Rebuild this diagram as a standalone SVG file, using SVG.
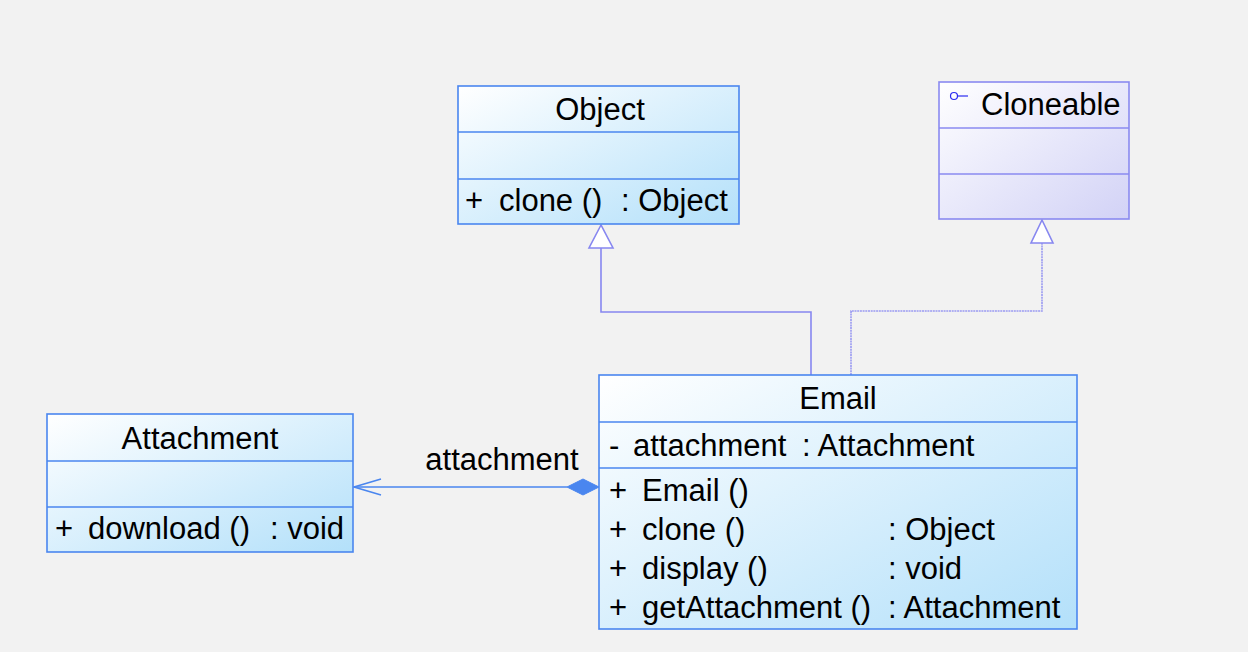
<svg xmlns="http://www.w3.org/2000/svg" width="1248" height="652" viewBox="0 0 1248 652">
<defs>
<linearGradient id="gBlue" x1="0" y1="0" x2="1" y2="1">
<stop offset="0" stop-color="#ffffff"/>
<stop offset="1" stop-color="#b3e0fa"/>
</linearGradient>
<linearGradient id="gPurple" x1="0" y1="0" x2="1" y2="1">
<stop offset="0" stop-color="#ffffff"/>
<stop offset="1" stop-color="#d2d2f6"/>
</linearGradient>
</defs>
<style>
.bg{fill:#f2f2f2}
.cls{fill:url(#gBlue);stroke:#4a86ef;stroke-width:1.6}
.ifc{fill:url(#gPurple);stroke:#8a8af0;stroke-width:1.6}
.divB{stroke:#4a86ef;stroke-width:1.6}
.divP{stroke:#8a8af0;stroke-width:1.6}
text{font-family:"Liberation Sans",Arial,Helvetica,sans-serif;font-size:31px;fill:#000}
.c{text-anchor:middle}
.gen{fill:none;stroke:#8787f0;stroke-width:1.6}
.real{fill:none;stroke:#9a9af2;stroke-width:1.6;stroke-dasharray:2 0.7}
.tri{fill:#ffffff;stroke:#8787f0;stroke-width:1.6}
.comp{fill:none;stroke:#4a86ef;stroke-width:1.6}
</style>
<rect class="bg" x="0" y="0" width="1248" height="652"/>

<g id="connectors">
<polyline class="gen" points="811,375 811,312 601,312 601,248"/>
<path class="tri" d="M601,225 L589,248 L613,248 Z"/>
<polyline class="real" points="851,375 851,311 1042,311 1042,243"/>
<path class="tri" d="M1042,220 L1031,243 L1053,243 Z"/>
<line class="comp" x1="354" y1="487" x2="567" y2="487"/>
<polyline class="comp" points="381,479 354,487 381,495"/>
<path d="M599,487 L583,479 L567,487 L583,495 Z" fill="#4a86ef" stroke="#4a86ef" stroke-width="1"/>
<text x="502" y="470" class="c">attachment</text>
</g>

<g id="Object">
<rect class="cls" x="458" y="86" width="281" height="138"/>
<line class="divB" x1="458" y1="132" x2="739" y2="132"/>
<line class="divB" x1="458" y1="179" x2="739" y2="179"/>
<text x="600" y="120" class="c">Object</text>
<text x="465" y="211">+</text>
<text x="499" y="211">clone ()</text>
<text x="621" y="211">: Object</text>
</g>

<g id="Cloneable">
<rect class="ifc" x="939" y="82" width="190" height="137"/>
<line class="divP" x1="939" y1="128" x2="1129" y2="128"/>
<line class="divP" x1="939" y1="174" x2="1129" y2="174"/>
<circle cx="954" cy="96" r="3.5" fill="none" stroke="#2a2af0" stroke-width="1.2"/>
<line x1="957.5" y1="96" x2="968" y2="96" stroke="#2a2af0" stroke-width="1.2"/>
<text x="981" y="115">Cloneable</text>
</g>

<g id="Attachment">
<rect class="cls" x="47" y="414" width="306" height="138"/>
<line class="divB" x1="47" y1="461" x2="353" y2="461"/>
<line class="divB" x1="47" y1="507" x2="353" y2="507"/>
<text x="200" y="449" class="c">Attachment</text>
<text x="55" y="539">+</text>
<text x="88" y="539">download ()</text>
<text x="270" y="539">: void</text>
</g>

<g id="Email">
<rect class="cls" x="599" y="375" width="478" height="254"/>
<line class="divB" x1="599" y1="422" x2="1077" y2="422"/>
<line class="divB" x1="599" y1="468" x2="1077" y2="468"/>
<text x="838" y="409" class="c">Email</text>
<text x="609" y="456">-</text>
<text x="633" y="456">attachment</text>
<text x="802" y="456">: Attachment</text>
<text x="609" y="501">+</text>
<text x="642" y="501">Email ()</text>
<text x="609" y="540">+</text>
<text x="642" y="540">clone ()</text>
<text x="888" y="540">: Object</text>
<text x="609" y="579">+</text>
<text x="642" y="579">display ()</text>
<text x="888" y="579">: void</text>
<text x="609" y="618">+</text>
<text x="642" y="618">getAttachment ()</text>
<text x="888" y="618">: Attachment</text>
</g>
</svg>
